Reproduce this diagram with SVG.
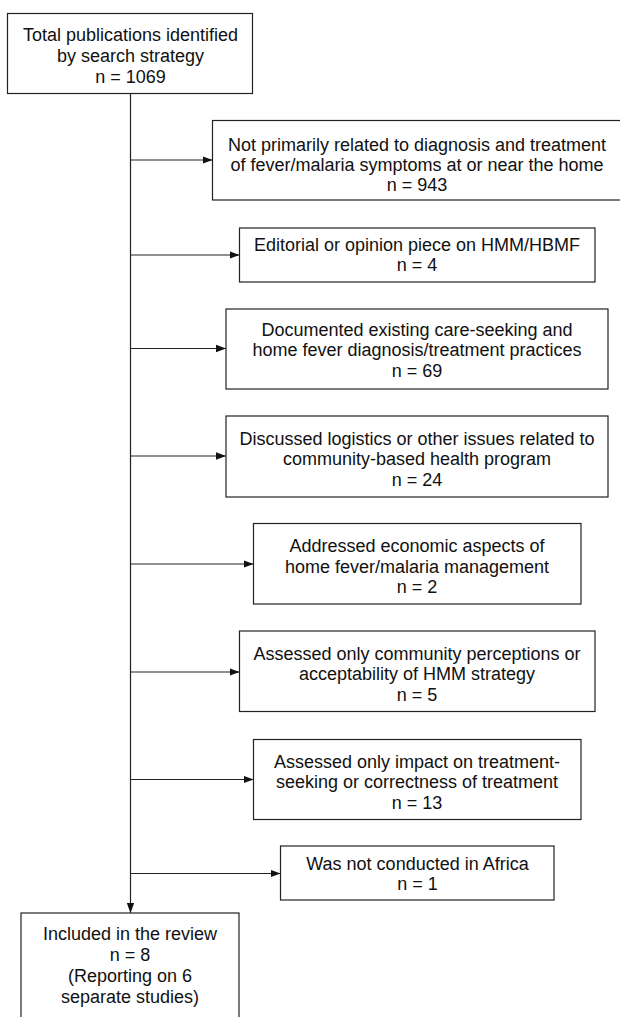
<svg xmlns="http://www.w3.org/2000/svg" width="620" height="1017" viewBox="0 0 620 1017">
<style>
rect{fill:#fff;stroke:#222;stroke-width:1.2}
text{font-family:"Liberation Sans",Arial,sans-serif;font-size:18px;fill:#111;text-anchor:middle}
.c line{stroke:#222;stroke-width:1.2;marker-end:url(#ah)}
</style>
<defs>
<marker id="ah" markerUnits="userSpaceOnUse" markerWidth="10" markerHeight="10" viewBox="0 0 10 10" refX="10" refY="5" orient="auto">
<path d="M0,1.3 L10,5 L0,8.7 Z" fill="#111"/>
</marker>
</defs>
<rect width="620" height="1017" style="fill:#fff;stroke:none"/>
<g class="c" id="connectors">
<line x1="130.5" y1="93.5" x2="130.5" y2="913"/>
<line x1="130.5" y1="160" x2="212.5" y2="160"/>
<line x1="130.5" y1="255" x2="239.5" y2="255"/>
<line x1="130.5" y1="348.5" x2="226" y2="348.5"/>
<line x1="130.5" y1="456" x2="226" y2="456"/>
<line x1="130.5" y1="564" x2="253.5" y2="564"/>
<line x1="130.5" y1="672" x2="239.5" y2="672"/>
<line x1="130.5" y1="779.5" x2="253.5" y2="779.5"/>
<line x1="130.5" y1="873.5" x2="280.5" y2="873.5"/>
</g>
<g id="n1"><rect x="7.5" y="13.5" width="245" height="80"/>
<text x="130.5" y="41">Total publications identified</text><text x="130.5" y="62">by search strategy</text><text x="130.5" y="82.5">n = 1069</text></g>
<g id="n2"><rect x="212.5" y="120.5" width="410" height="79.5"/>
<text x="417" y="150.5">Not primarily related to diagnosis and treatment</text><text x="417" y="170.5">of fever/malaria symptoms at or near the home</text><text x="417" y="190.5">n = 943</text></g>
<g id="n3"><rect x="239.5" y="228" width="355.5" height="54"/>
<text x="417" y="250.5">Editorial or opinion piece on HMM/HBMF</text><text x="417" y="271">n = 4</text></g>
<g id="n4"><rect x="226" y="309" width="382" height="80"/>
<text x="417" y="335.5">Documented existing care-seeking and</text><text x="417" y="356">home fever diagnosis/treatment practices</text><text x="417" y="376.5">n = 69</text></g>
<g id="n5"><rect x="226" y="416" width="382" height="81"/>
<text x="417" y="444.5">Discussed logistics or other issues related to</text><text x="417" y="465">community-based health program</text><text x="417" y="485.5">n = 24</text></g>
<g id="n6"><rect x="253.5" y="523.5" width="327.5" height="80.5"/>
<text x="417" y="552">Addressed economic aspects of</text><text x="417" y="572.5">home fever/malaria management</text><text x="417" y="593">n = 2</text></g>
<g id="n7"><rect x="239.5" y="631" width="355.5" height="80.5"/>
<text x="417" y="659.5">Assessed only community perceptions or</text><text x="417" y="680">acceptability of HMM strategy</text><text x="417" y="700.5">n = 5</text></g>
<g id="n8"><rect x="253.5" y="739.5" width="327.5" height="80"/>
<text x="417" y="767.5">Assessed only impact on treatment-</text><text x="417" y="788">seeking or correctness of treatment</text><text x="417" y="808.5">n = 13</text></g>
<g id="n9"><rect x="280.5" y="846" width="273.5" height="54"/>
<text x="417.5" y="869.5">Was not conducted in Africa</text><text x="417.5" y="890">n = 1</text></g>
<g id="n10"><rect x="21" y="913" width="218" height="120"/>
<text x="130" y="940">Included in the review</text><text x="130" y="960.5">n = 8</text><text x="130" y="982">(Reporting on 6</text><text x="130" y="1003">separate studies)</text></g>
</svg>
